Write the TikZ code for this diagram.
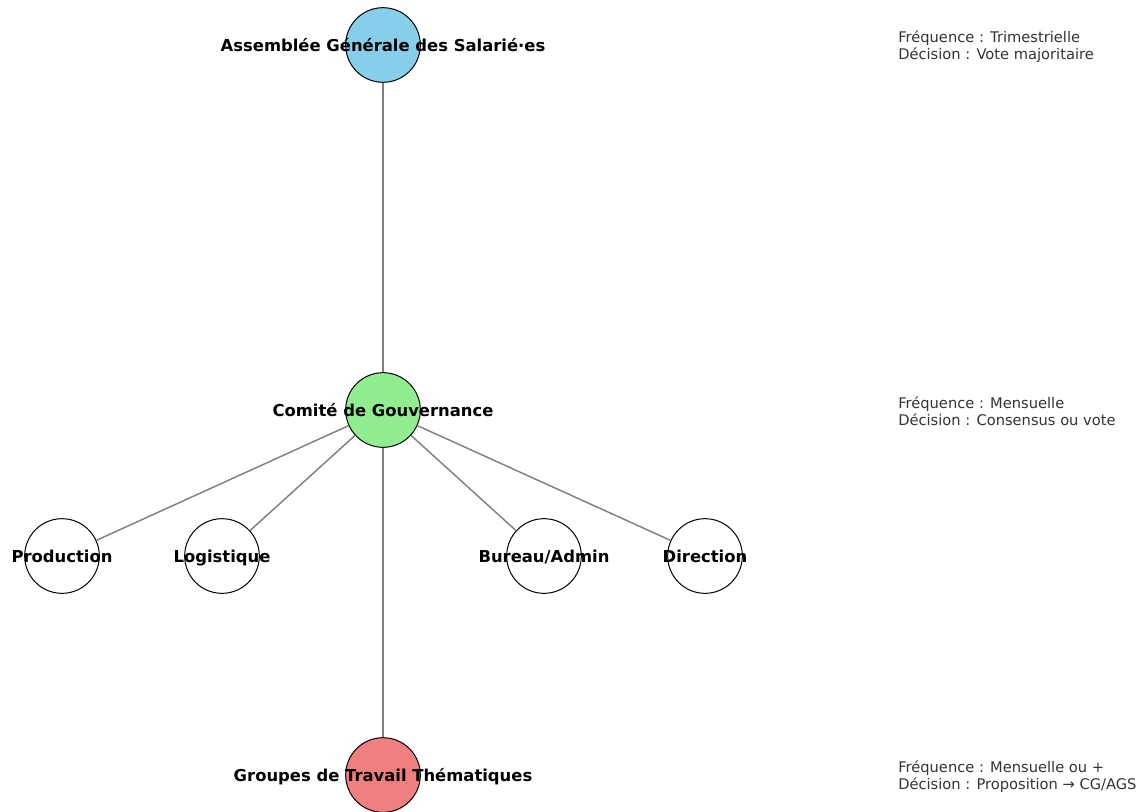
\documentclass[tikz,border=0pt]{standalone}
\usepackage{fontspec}
\setmainfont{DejaVu Sans}
\begin{document}
\begin{tikzpicture}[x=0.75pt,y=-0.75pt,
  circ/.style={circle,draw=black,line width=0.75pt,minimum size=56pt,inner sep=0pt},
  lab/.style={font=\bfseries\fontsize{12.3pt}{14pt}\selectfont,text=black,inner sep=0pt,anchor=base},
  info/.style={anchor=west,align=left,font=\fontsize{11pt}{12.8pt}\selectfont,text=black!80,inner sep=0pt},
  edge/.style={draw=gray,line width=1.1pt}]
\useasboundingbox (0,0) rectangle (1145,811);
\clip (0,0) rectangle (1145,811);
\definecolor{skyb}{HTML}{87CEEB}
\definecolor{lgreen}{HTML}{90EE90}
\definecolor{lcoral}{HTML}{F08080}
\node[circ,fill=skyb] (ags) at (383,45) {};
\node[circ,fill=lgreen] (cg) at (383,410) {};
\node[circ,fill=lcoral] (gt) at (383,775) {};
\node[circ,fill=white] (prod) at (62,556) {};
\node[circ,fill=white] (log) at (222,556) {};
\node[circ,fill=white] (bur) at (544,556) {};
\node[circ,fill=white] (dir) at (705,556) {};
\draw[edge] (ags) -- (cg);
\draw[edge] (cg) -- (gt);
\draw[edge] (cg) -- (prod);
\draw[edge] (cg) -- (log);
\draw[edge] (cg) -- (bur);
\draw[edge] (cg) -- (dir);
\node[lab] (agsl) at (383,51) {Assemblée Générale des Salarié·es};
\node[lab] (cgl) at (383,416) {Comité de Gouvernance};
\node[lab] (gtl) at (383,781) {Groupes de Travail Thématiques};
\node[lab] (prodl) at (62,562) {Production};
\node[lab] (logl) at (222,562) {Logistique};
\node[lab] (burl) at (544,562) {Bureau/Admin};
\node[lab] (dirl) at (705,562) {Direction};
\node[info] (i1) at (898,46.5) {Fréquence : Trimestrielle\\Décision : Vote majoritaire};
\node[info] (i2) at (898,411.5) {Fréquence : Mensuelle\\Décision : Consensus ou vote};
\node[info] (i3) at (898,776.5) {Fréquence : Mensuelle ou +\\Décision : Proposition → CG/AGS};
\end{tikzpicture}
\end{document}
